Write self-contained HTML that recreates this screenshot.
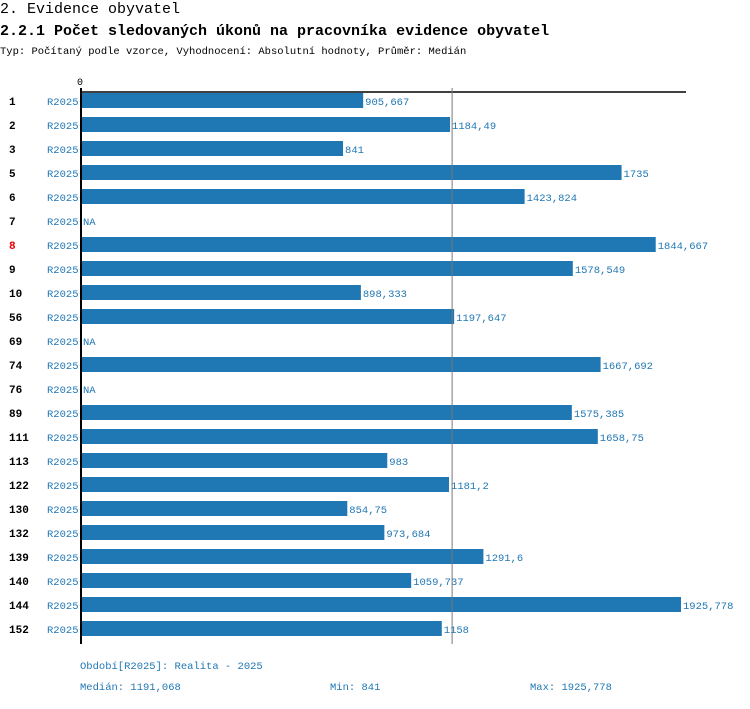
<!DOCTYPE html>
<html><head><meta charset="utf-8"><style>
body{margin:0;background:#fff;width:750px;height:704px;overflow:hidden;font-family:"Liberation Mono",monospace}
</style></head><body>
<svg width="750" height="704" xmlns="http://www.w3.org/2000/svg" font-family="Liberation Mono, monospace" id="chart">
<text x="0" y="13" font-size="15">2. Evidence obyvatel</text>
<text x="0" y="35" font-size="15" font-weight="bold">2.2.1 Počet sledovaných úkonů na pracovníka evidence obyvatel</text>
<text x="0" y="54" font-size="10.5">Typ: Počítaný podle vzorce, Vyhodnocení: Absolutní hodnoty, Průměr: Medián</text>
<text x="77" y="85" font-size="10">0</text>
<g id="bars"></g>
<line x1="80" y1="92" x2="686" y2="92" stroke="#000" stroke-width="1.5"/>
<line x1="81" y1="88" x2="81" y2="644" stroke="#000" stroke-width="2"/>
<line id="med" y1="88" y2="644" stroke="#777" stroke-width="1"/>
<text x="80" y="669" font-size="10.5" fill="#1f77b4">Období[R2025]: Realita - 2025</text>
<text x="80" y="690" font-size="10.5" fill="#1f77b4">Medián: 1191,068</text>
<text x="330" y="690" font-size="10.5" fill="#1f77b4">Min: 841</text>
<text x="530" y="690" font-size="10.5" fill="#1f77b4">Max: 1925,778</text>
</svg>
<script>
const categories=["1","2","3","5","6","7","8","9","10","56","69","74","76","89","111","113","122","130","132","139","140","144","152"];
const values=[905.667,1184.49,841,1735,1423.824,null,1844.667,1578.549,898.333,1197.647,null,1667.692,null,1575.385,1658.75,983,1181.2,854.75,973.684,1291.6,1059.737,1925.778,1158];
const valueLabels=["905,667","1184,49","841","1735","1423,824","NA","1844,667","1578,549","898,333","1197,647","NA","1667,692","NA","1575,385","1658,75","983","1181,2","854,75","973,684","1291,6","1059,737","1925,778","1158"];
const highlight="8";
const median=1191.068;
const NS="http://www.w3.org/2000/svg";
const x=v=>81+v*(600/1925.778);
const yTop=i=>92+i*24;
const g=document.getElementById('bars');
function mk(t,a){const e=document.createElementNS(NS,t);for(const k in a)e.setAttribute(k,a[k]);return e;}
categories.forEach((c,i)=>{
  const y=yTop(i);
  const lab=mk('text',{x:9,y:y+13,'font-size':11,'font-weight':'bold',fill:c===highlight?'#e00':'#000'});
  lab.textContent=c;
  
  
  g.appendChild(lab);
  const per=mk('text',{x:47,y:y+13,'font-size':10.5,fill:'#1f77b4'});
  per.textContent='R2025';
  
  
  g.appendChild(per);
  const v=values[i];
  let end=82;
  if(v!==null){
    const r=mk('rect',{x:81,y:y+1,width:x(v)-81,height:15,fill:'#1f77b4'});
    
    
    g.appendChild(r);
    end=x(v)+1;
  }
  const t=mk('text',{x:end+1,y:y+13,'font-size':10.5,fill:'#1f77b4'});
  t.textContent=valueLabels[i];
  
  
  g.appendChild(t);
});
const m=document.getElementById('med');
m.setAttribute('x1',x(median));m.setAttribute('x2',x(median));
</script>
</body></html>
